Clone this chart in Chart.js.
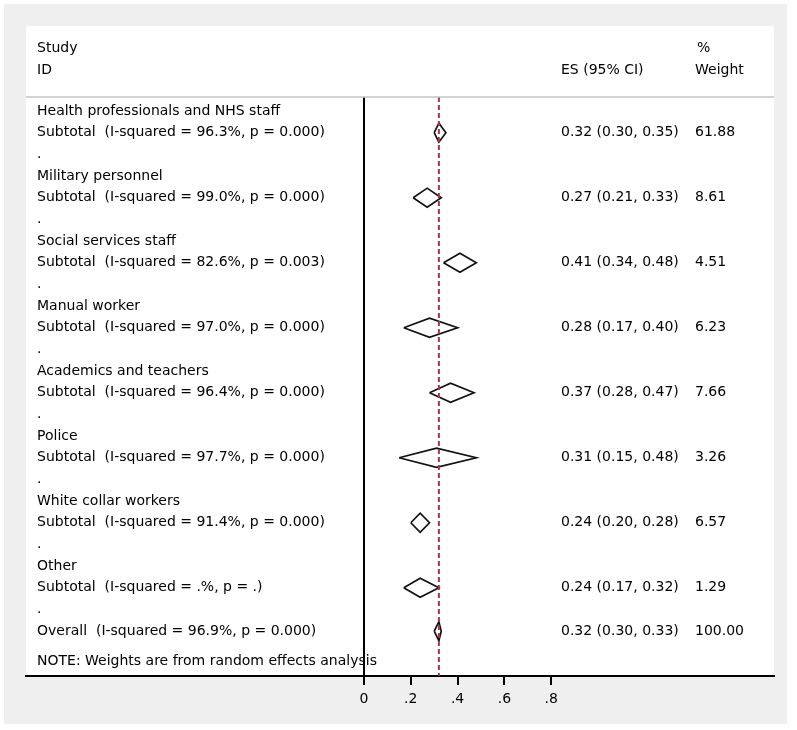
<!DOCTYPE html>
<html>
<head>
<meta charset="utf-8">
<script src="https://cdn.jsdelivr.net/npm/chart.js@4.4.0/dist/chart.umd.min.js"></script>
<style>
    html, body { margin: 0; padding: 0; background: #fff; }
    #wrap { width: 797px; height: 730px; }
</style>
</head>
<body>
<div id="wrap"><canvas id="myChart" width="797" height="730"></canvas></div>
<script>
// Subgroup results
const groups = ['Health professionals and NHS staff', 'Military personnel', 'Social services staff',
    'Manual worker', 'Academics and teachers', 'Police', 'White collar workers', 'Other'];
const esValues = [0.32, 0.27, 0.41, 0.28, 0.37, 0.31, 0.24, 0.24];
const ciLower  = [0.30, 0.21, 0.34, 0.17, 0.28, 0.15, 0.20, 0.17];
const ciUpper  = [0.35, 0.33, 0.48, 0.40, 0.47, 0.48, 0.28, 0.32];
const weights  = ['61.88', '8.61', '4.51', '6.23', '7.66', '3.26', '6.57', '1.29'];
const iSquared = ['96.3', '99.0', '82.6', '97.0', '96.4', '97.7', '91.4', '.'];
const pValues  = ['0.000', '0.000', '0.003', '0.000', '0.000', '0.000', '0.000', '.'];

// Overall pooled estimate
const overallEs = 0.32;
const overallLower = 0.30;
const overallUpper = 0.33;
const overallWeight = '100.00';
const overallI2 = '96.9';
const overallP = '0.000';

const tickValues = [0, 0.2, 0.4, 0.6, 0.8];
const tickLabels = ['0', '.2', '.4', '.6', '.8'];

const FONT = 'DejaVu Sans';
const FSIZE = 14;

// row layout: each group uses 3 rows (label, subtotal, blank dot)
const overallRow = groups.length * 3;
const noteRow = overallRow + 1.4;
const yMin = -0.646, yMax = 26.07;
const xMin = -1.4444, xMax = 1.7521;
const halfH = 0.44;  // diamond half height in row units

function diamond(es, lo, hi, row) {
    return [
        {x: lo, y: row}, {x: es, y: row - halfH}, {x: hi, y: row},
        {x: es, y: row + halfH}, {x: lo, y: row}
    ];
}

const datasets = [];
// line of no effect
datasets.push({
    data: [{x: 0, y: yMin}, {x: 0, y: yMax}],
    showLine: true, borderColor: '#000', borderWidth: 2, pointRadius: 0
});
// overall effect dashed line
datasets.push({
    data: [{x: overallEs, y: yMin}, {x: overallEs, y: yMax}],
    showLine: true, borderColor: '#a8364a', borderWidth: 2, borderDash: [5, 3], pointRadius: 0
});
groups.forEach((g, i) => {
    datasets.push({
        data: diamond(esValues[i], ciLower[i], ciUpper[i], i * 3 + 1),
        showLine: true, borderColor: '#111', borderWidth: 1.7, pointRadius: 0, fill: false
    });
});
datasets.push({
    data: diamond(overallEs, overallLower, overallUpper, overallRow),
    showLine: true, borderColor: '#111', borderWidth: 1.7, pointRadius: 0, fill: false
});

const fmt = v => v.toFixed(2);

const forestText = {
    id: 'forestText',
    beforeDraw(chart) {
        const ctx = chart.ctx;
        const a = chart.chartArea;
        ctx.save();
        ctx.fillStyle = '#fff';
        ctx.fillRect(0, 0, chart.width, chart.height);
        ctx.fillStyle = '#efefef';
        ctx.fillRect(4, 4, 783, 720);
        ctx.fillStyle = '#fff';
        ctx.fillRect(a.left, 26, a.right - a.left, a.bottom - 26);
        ctx.restore();
    },
    afterDraw(chart) {
        const ctx = chart.ctx;
        const a = chart.chartArea;
        const y = chart.scales.y;
        const colL = a.left + 11, colES = 561, colW = 695;
        ctx.save();
        // header separator
        ctx.strokeStyle = '#c4c4c4';
        ctx.lineWidth = 1.5;
        ctx.beginPath();
        ctx.moveTo(a.left, a.top);
        ctx.lineTo(a.right, a.top);
        ctx.stroke();

        ctx.fillStyle = '#000';
        ctx.font = FSIZE + 'px "' + FONT + '"';
        ctx.textBaseline = 'middle';
        ctx.textAlign = 'left';
        const put = (t, x, row) => ctx.fillText(t, x, y.getPixelForValue(row));

        put('Study', colL, -2.91);
        put('ID', colL, -1.89);
        put('ES (95% CI)', colES, -1.89);
        put('%', colW + 2, -2.91);
        put('Weight', colW, -1.89);

        groups.forEach((g, i) => {
            const r = i * 3;
            put(g, colL, r);
            put('Subtotal  (I-squared = ' + iSquared[i] + '%, p = ' + pValues[i] + ')', colL, r + 1);
            put(fmt(esValues[i]) + ' (' + fmt(ciLower[i]) + ', ' + fmt(ciUpper[i]) + ')', colES, r + 1);
            put(weights[i], colW, r + 1);
            put('.', colL, r + 2);
        });
        put('Overall  (I-squared = ' + overallI2 + '%, p = ' + overallP + ')', colL, overallRow);
        put(fmt(overallEs) + ' (' + fmt(overallLower) + ', ' + fmt(overallUpper) + ')', colES, overallRow);
        put(overallWeight, colW, overallRow);
        put('NOTE: Weights are from random effects analysis', colL, noteRow);
        ctx.restore();
    }
};

const ctx = document.getElementById('myChart').getContext('2d');
const chart = new Chart(ctx, {
    type: 'scatter',
    data: { datasets: datasets },
    options: {
        responsive: false,
        animation: false,
        layout: { padding: { left: 26, right: 23, top: 97, bottom: 0 } },
        plugins: {
            legend: { display: false },
            tooltip: { enabled: false }
        },
        scales: {
            x: {
                type: 'linear',
                min: xMin,
                max: xMax,
                afterBuildTicks: s => { s.ticks = tickValues.map(v => ({ value: v })); },
                afterFit: s => { s.height = 54; },
                grid: { drawOnChartArea: false, drawTicks: true, tickLength: 9, color: '#000', lineWidth: 2 },
                border: { display: true, color: '#000', width: 2 },
                ticks: {
                    autoSkip: false,
                    maxRotation: 0,
                    color: '#000',
                    padding: 6,
                    font: { family: FONT, size: FSIZE },
                    callback: (v, i) => tickLabels[i]
                }
            },
            y: {
                type: 'linear',
                reverse: true,
                min: yMin,
                max: yMax,
                display: false
            }
        }
    },
    plugins: [forestText]
});
</script>
</body>
</html>
